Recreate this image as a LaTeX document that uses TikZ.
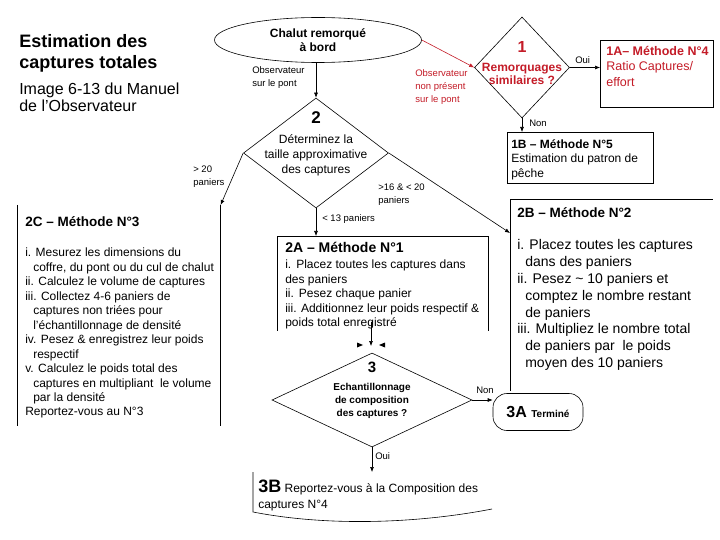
\documentclass[tikz,border=0pt]{standalone}
\usepackage{fontspec}
\setmainfont{Liberation Sans}
\usetikzlibrary{shapes.geometric,arrows.meta}
\definecolor{rouge}{RGB}{196,28,40}
\newcommand{\myind}{\hspace*{8pt}}
\begin{document}
\begin{tikzpicture}[x=1pt,y=-1pt,line width=0.6pt,
  arr/.style={-{Latex[length=5pt,width=4pt]}},
  tx/.style={inner sep=0,align=left,anchor=north west},
  sm/.style={inner sep=0,align=left,anchor=north west,font=\fontsize{9.5}{13}\selectfont},
]
\useasboundingbox (0,0) rectangle (720,540);
\fill[white] (0,0) rectangle (720,540);

% titles
\node[tx,font=\fontsize{18}{21.5}\selectfont\bfseries] (title) at (19,34) {Estimation des\\captures totales};
\node[tx,font=\fontsize{16}{17}\selectfont] (subtitle) at (19,83) {Image 6-13 du Manuel\\de l'Observateur};

% start oval
\node[ellipse,draw,minimum width=207,minimum height=45,inner sep=0,align=center,font=\fontsize{12}{14}\selectfont\bfseries] (oval) at (318,40) {Chalut remorqué\\à bord};

% diamond 1
\node[diamond,draw,minimum width=95,minimum height=101,inner sep=0] (d1) at (522,67.5) {};
\node[font=\fontsize{16}{16}\selectfont\bfseries,text=rouge,inner sep=0] (d1n) at (522,47) {1};
\node[font=\fontsize{12}{13}\selectfont\bfseries,text=rouge,align=center,inner sep=0] (d1t) at (522,74) {Remorquages\\similaires ?};

% 1A
\node[draw,minimum width=113,minimum height=67,anchor=north west,inner sep=0] (a1) at (600,40) {};
\node[tx,font=\fontsize{12.5}{15.5}\selectfont,text=rouge] (a1t) at (606,46) {\textbf{1A– Méthode N°4}\\Ratio Captures/\\effort};

% 1B
\node[draw,minimum width=146,minimum height=51,anchor=north west,inner sep=0] (b1) at (507,132) {};
\node[tx,font=\fontsize{12}{14.5}\selectfont] (b1t) at (511,139) {\textbf{1B – Méthode N°5}\\Estimation du patron de\\pêche};

% diamond 2
\node[diamond,draw,minimum width=145,minimum height=110,inner sep=0] (d2) at (316,153) {};
\node[font=\fontsize{17}{17}\selectfont\bfseries,inner sep=0] (d2n) at (316,118) {2};
\node[font=\fontsize{12}{15}\selectfont,align=center,inner sep=0] (d2t) at (316,155) {Déterminez la\\taille approximative\\des captures};

% 2C
\node[minimum width=203,minimum height=220,anchor=north west,inner sep=0] (c2) at (17,205) {};
\draw (c2.north west) -- (c2.south west);
\draw (c2.north east) -- (c2.south east);
\node[tx,font=\fontsize{13.5}{16}\selectfont\bfseries] (c2h) at (25,216) {2C – Méthode N°3};
\node[tx,font=\fontsize{12}{14.45}\selectfont] (c2t) at (25,248) {i. Mesurez les dimensions du\\
\myind coffre, du pont ou du cul de chalut\\
ii. Calculez le volume de captures\\
iii. Collectez 4-6 paniers de\\
\myind captures non triées pour\\
\myind l'échantillonnage de densité\\
iv. Pesez \& enregistrez leur poids\\
\myind respectif\\
v. Calculez le poids total des\\
\myind captures en multipliant\ \ le volume\\
\myind par la densité\\
Reportez-vous au N°3};

% 2A
\node[minimum width=211,minimum height=94,anchor=north west,inner sep=0] (a2) at (277,236) {};
\draw (a2.south west) -- (a2.north west) -- (a2.north east) -- (a2.south east);
\node[tx,font=\fontsize{14}{16}\selectfont\bfseries] (a2h) at (285,242) {2A – Méthode N°1};
\node[tx,font=\fontsize{12}{14.5}\selectfont] (a2t) at (285,260) {i.\hspace{5pt}Placez toutes les captures dans\\des paniers\\ii.\hspace{5pt}Pesez chaque panier\\iii. Additionnez leur poids respectif \&\\poids total enregistré};

% 2B
\node[minimum width=202,minimum height=191,anchor=north west,inner sep=0] (b2) at (510,199) {};
\draw (b2.south west) -- (b2.north west) -- (b2.north east);
\node[tx,font=\fontsize{13.5}{16}\selectfont\bfseries] (b2h) at (517,207) {2B – Méthode N°2};
\node[tx,font=\fontsize{14}{16.9}\selectfont] (b2t) at (517,239) {i. Placez toutes les captures\\
\myind dans des paniers\\
ii. Pesez \textasciitilde\ 10 paniers et\\
\myind comptez le nombre restant\\
\myind de paniers\\
iii. Multipliez le nombre total\\
\myind de paniers par\ \ le poids\\
\myind moyen des 10 paniers};

% diamond 3
\node[diamond,draw,minimum width=200,minimum height=94,inner sep=0] (d3) at (372,400) {};
\node[font=\fontsize{15}{15}\selectfont\bfseries,inner sep=0] (d3n) at (372,367) {3};
\node[font=\fontsize{10}{13}\selectfont\bfseries,align=center,inner sep=0] (d3t) at (372,401) {Echantillonnage\\de composition\\des captures ?};

% 3A
\node[draw,rounded corners=14,minimum width=90,minimum height=37,inner sep=0] (e3a) at (538,412) {\fontsize{16}{16}\selectfont\bfseries 3A \fontsize{10}{10}\selectfont Terminé};

% 3B
\node[minimum width=239,minimum height=42,anchor=north west,inner sep=0] (b3) at (253,472) {};
\draw (b3.north west) -- (253,512) .. controls (330,527) and (420,523) .. (492,509);
\node[tx,font=\fontsize{12}{16}\selectfont] (b3t) at (258,480) {{\fontsize{18}{18}\selectfont\bfseries 3B} Reportez-vous à la Composition des\\captures N°4};

% connectors
\draw[arr] (d2.north |- oval.south) -- (d2.north);
\draw[arr,rouge] (oval.east) -- (d1.west);
\draw[arr] (d1.east) -- (a1.west |- d1.east);
\draw[arr] (d1.south) -- (d1.south |- b1.north);
\draw[arr] (d2.west) -- (c2.north east);
\draw[arr] (d2.south) -- (d2.south |- a2.north);
\coordinate (b2in) at (510,233);
\draw[arr] (d2.east) -- (b2in);
\coordinate (a2out) at (371,322);
\coordinate (m3) at (371,346);
\draw[arr] (a2out) -- (m3);
\fill (357,342.5) -- (363,345) -- (357,347.5) -- cycle;
\fill (385,342.5) -- (379,345) -- (385,347.5) -- cycle;
\draw[arr] (d3.east) -- (e3a.west |- d3.east);
\draw[arr] (d3.south) -- (d3.south |- b3.north);

% labels
\node[sm] (obs1) at (252,66) {Observateur\\sur le pont};
\node[sm,text=rouge] (obs2) at (415,69) {Observateur\\non présent\\sur le pont};
\node[sm] (oui1) at (575,56) {Oui};
\node[sm] (non1) at (529,120) {Non};
\node[sm] (p20) at (193,166) {> 20\\paniers};
\node[sm] (p13) at (322,214) {< 13 paniers};
\node[sm] (p16) at (378,184) {>16 \& < 20\\paniers};
\node[sm] (non3) at (476,387) {Non};
\node[sm] (oui3) at (375,452) {Oui};
\end{tikzpicture}
\end{document}
